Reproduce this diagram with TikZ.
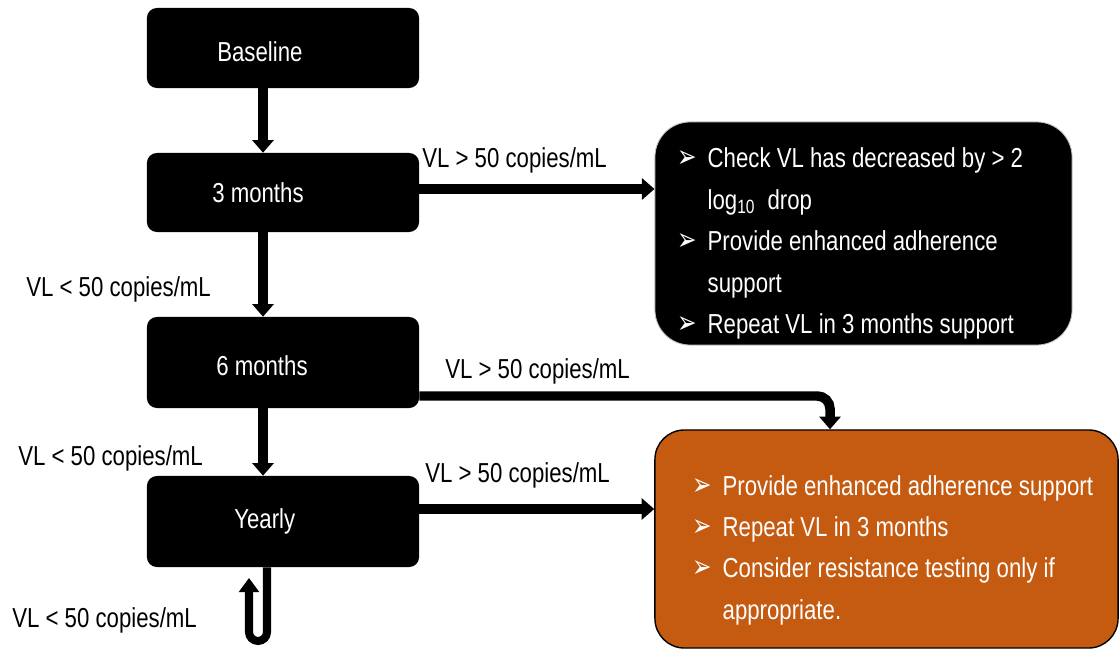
\documentclass[tikz,border=0pt]{standalone}
\usepackage{fontspec}
\usepackage{graphicx}
\setmainfont{Liberation Sans}[FakeStretch=0.81]
\newfontfamily\dingfnt{DejaVu Sans}
\usetikzlibrary{arrows.meta}
\definecolor{orng}{RGB}{197,90,17}
\newcommand\bul{\makebox[21.6pt][l]{\raisebox{0pt}{\scalebox{0.72}[0.98]{\dingfnt\fontsize{23}{23}\selectfont ➢}}}}
\begin{document}
\begin{tikzpicture}[x=0.025cm,y=-0.025cm,
  every node/.style={inner sep=0pt, font=\fontsize{19.5}{29.5}\selectfont},
  stage/.style={fill=black, rounded corners=7pt, minimum width=6.8cm},
  wtext/.style={text=white, anchor=base west},
  lbl/.style={text=black, anchor=base west},
  arr/.style={line width=6.75pt, -{Triangle[width=15pt,length=9pt]}},
  looparr/.style={line width=5.7pt, -{Triangle[width=14pt,length=10pt]}}
]
\useasboundingbox (0,0) rectangle (1120,650);

% stage boxes
\node[stage, minimum height=2cm]     (base) at (283,48)    {};
\node[stage, minimum height=1.975cm] (m3)   at (283,192.5) {};
\node[stage, minimum height=2.275cm] (m6)   at (283,362.5) {};
\node[stage, minimum height=2.275cm] (yr)   at (283,521.5) {};
\node[wtext] (tbase) at (217,62)  {Baseline};
\node[wtext] (tm3)   at (212,202) {3 months};
\node[wtext] (tm6)   at (216,375) {6 months};
\node[wtext] (tyr)   at (234,528) {Yearly};

% action boxes
\node[fill=black, draw=gray!50, line width=0.6pt, rounded corners=25pt,
      minimum width=10.425cm, minimum height=5.575cm] (chk) at (863.5,233.5) {};
\node[fill=orng, draw=black, line width=1pt, rounded corners=21pt,
      minimum width=11.575cm, minimum height=5.45cm] (orn) at (886.5,539) {};

\node[wtext] (chkt) at (677,168) {\begin{tabular}[t]{@{}l@{}l@{}}
\bul & Check VL has decreased by > 2\\
 & log\textsubscript{10}\ \ drop\\
\bul & Provide enhanced adherence\\
 & support\\
\bul & Repeat VL in 3 months support
\end{tabular}};
\node[wtext] (ornt) at (692,495) {\begin{tabular}[t]{@{}l@{}l@{}}
\bul & Provide enhanced adherence support\\
\bul & Repeat VL in 3 months\\
\bul & Consider resistance testing only if\\
 & appropriate.
\end{tabular}};

% labels
\node[lbl] (l1) at (422,168) {VL > 50 copies/mL};
\node[lbl] (l2) at (445,378) {VL > 50 copies/mL};
\node[lbl] (l3) at (425,482) {VL > 50 copies/mL};
\node[lbl] (l4) at (26,296)  {VL < 50 copies/mL};
\node[lbl] (l5) at (18,465)  {VL < 50 copies/mL};
\node[lbl] (l6) at (12,627)  {VL < 50 copies/mL};

% connectors
\coordinate (vx) at (263,0);
\draw[arr] (base.south -| vx) -- (m3.north -| vx);
\draw[arr] (m3.south -| vx) -- (m6.north -| vx);
\draw[arr] (m6.south -| vx) -- (yr.north -| vx);
\coordinate (h1) at (0,189);
\draw[arr] (m3.east |- h1) -- (chk.west |- h1);
\coordinate (h2) at (830,396);
\draw[arr, rounded corners=9pt] (m6.east |- h2) -- (h2) -- (h2 |- orn.north);
\coordinate (h3) at (0,509);
\draw[arr] (yr.east |- h3) -- (orn.west |- h3);

% loop
\coordinate (lpR) at (267,641);
\coordinate (lpL) at (249,641);
\coordinate (lpE) at (249,578);
\draw[looparr, rounded corners=6.4pt] (yr.south -| lpR) -- (lpR) -- (lpL) -- (lpE);
\end{tikzpicture}
\end{document}
